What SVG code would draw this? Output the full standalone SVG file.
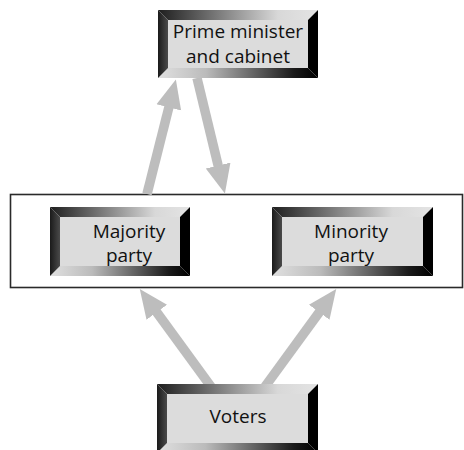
<svg xmlns="http://www.w3.org/2000/svg" width="464" height="450" viewBox="0 0 464 450">
<style>
.inner{fill:#dcdcdc}
.top{fill:url(#gTop)}
.bot{fill:url(#gBot)}
.lft{fill:url(#gLeft)}
.rgt{fill:#000}
.lbl{font-family:"Open Sans","Noto Sans",sans-serif;font-size:19px;fill:#111;text-anchor:middle}
.arr{stroke:#bdbdbd;stroke-width:9.5;fill:none;marker-end:url(#head)}
</style>
<defs>
<linearGradient id="gTop" x1="0" y1="0" x2="1" y2="0">
<stop offset="0" stop-color="#1e1e1e"/><stop offset="0.75" stop-color="#d8d8d8"/><stop offset="1" stop-color="#e4e4e4"/>
</linearGradient>
<linearGradient id="gBot" x1="0" y1="0" x2="1" y2="0">
<stop offset="0" stop-color="#e0e0e0"/><stop offset="0.3" stop-color="#bbbbbb"/><stop offset="0.85" stop-color="#1a1a1a"/><stop offset="1" stop-color="#000"/>
</linearGradient>
<linearGradient id="gLeft" x1="0" y1="0" x2="1" y2="0">
<stop offset="0" stop-color="#1a1a1a"/><stop offset="1" stop-color="#4a4a4a"/>
</linearGradient>
<marker id="head" markerUnits="userSpaceOnUse" markerWidth="30" markerHeight="30" viewBox="0 -12 26 24" refX="1" refY="0" orient="auto">
<path d="M0,-11 L25,0 L0,11 z" fill="#bdbdbd"/>
</marker>
</defs>
<rect x="10.5" y="194.5" width="452" height="93" fill="none" stroke="#2a2a2a" stroke-width="1.6"/>
<g id="connectors">
<line class="arr" x1="147" y1="194" x2="169.1" y2="106.3"/>
<line class="arr" x1="197" y1="78" x2="218.4" y2="166.7"/>
<line class="arr" x1="212" y1="388" x2="156.1" y2="311.4"/>
<line class="arr" x1="264" y1="388" x2="319.9" y2="311.4"/>
</g>
<g id="prime">
<polygon class="top" points="158,10 318,10 308,20 168,20"/>
<polygon class="rgt" points="318,10 318,78 308,68 308,20"/>
<polygon class="bot" points="158,78 168,68 308,68 318,78"/>
<polygon class="lft" points="158,10 168,20 168,68 158,78"/>
<rect class="inner" x="168" y="20" width="140" height="48"/>
<text class="lbl" x="238" y="38">Prime minister</text>
<text class="lbl" x="238" y="63">and cabinet</text>
</g>
<g id="majority">
<polygon class="top" points="50,207 190,207 180,217 60,217"/>
<polygon class="rgt" points="190,207 190,276 180,266 180,217"/>
<polygon class="bot" points="50,276 60,266 180,266 190,276"/>
<polygon class="lft" points="50,207 60,217 60,266 50,276"/>
<rect class="inner" x="60" y="217" width="120" height="49"/>
<text class="lbl" x="129" y="238">Majority</text>
<text class="lbl" x="129" y="262">party</text>
</g>
<g id="minority">
<polygon class="top" points="272,207 433,207 423,217 282,217"/>
<polygon class="rgt" points="433,207 433,276 423,266 423,217"/>
<polygon class="bot" points="272,276 282,266 423,266 433,276"/>
<polygon class="lft" points="272,207 282,217 282,266 272,276"/>
<rect class="inner" x="282" y="217" width="141" height="49"/>
<text class="lbl" x="351" y="238">Minority</text>
<text class="lbl" x="351" y="262">party</text>
</g>
<g id="voters">
<polygon class="top" points="157,384 318,384 308,394 167,394"/>
<polygon class="rgt" points="318,384 318,453 308,443 308,394"/>
<polygon class="bot" points="157,453 167,443 308,443 318,453"/>
<polygon class="lft" points="157,384 167,394 167,443 157,453"/>
<rect class="inner" x="167" y="394" width="141" height="49"/>
<text class="lbl" x="238" y="423">Voters</text>
</g>
</svg>
